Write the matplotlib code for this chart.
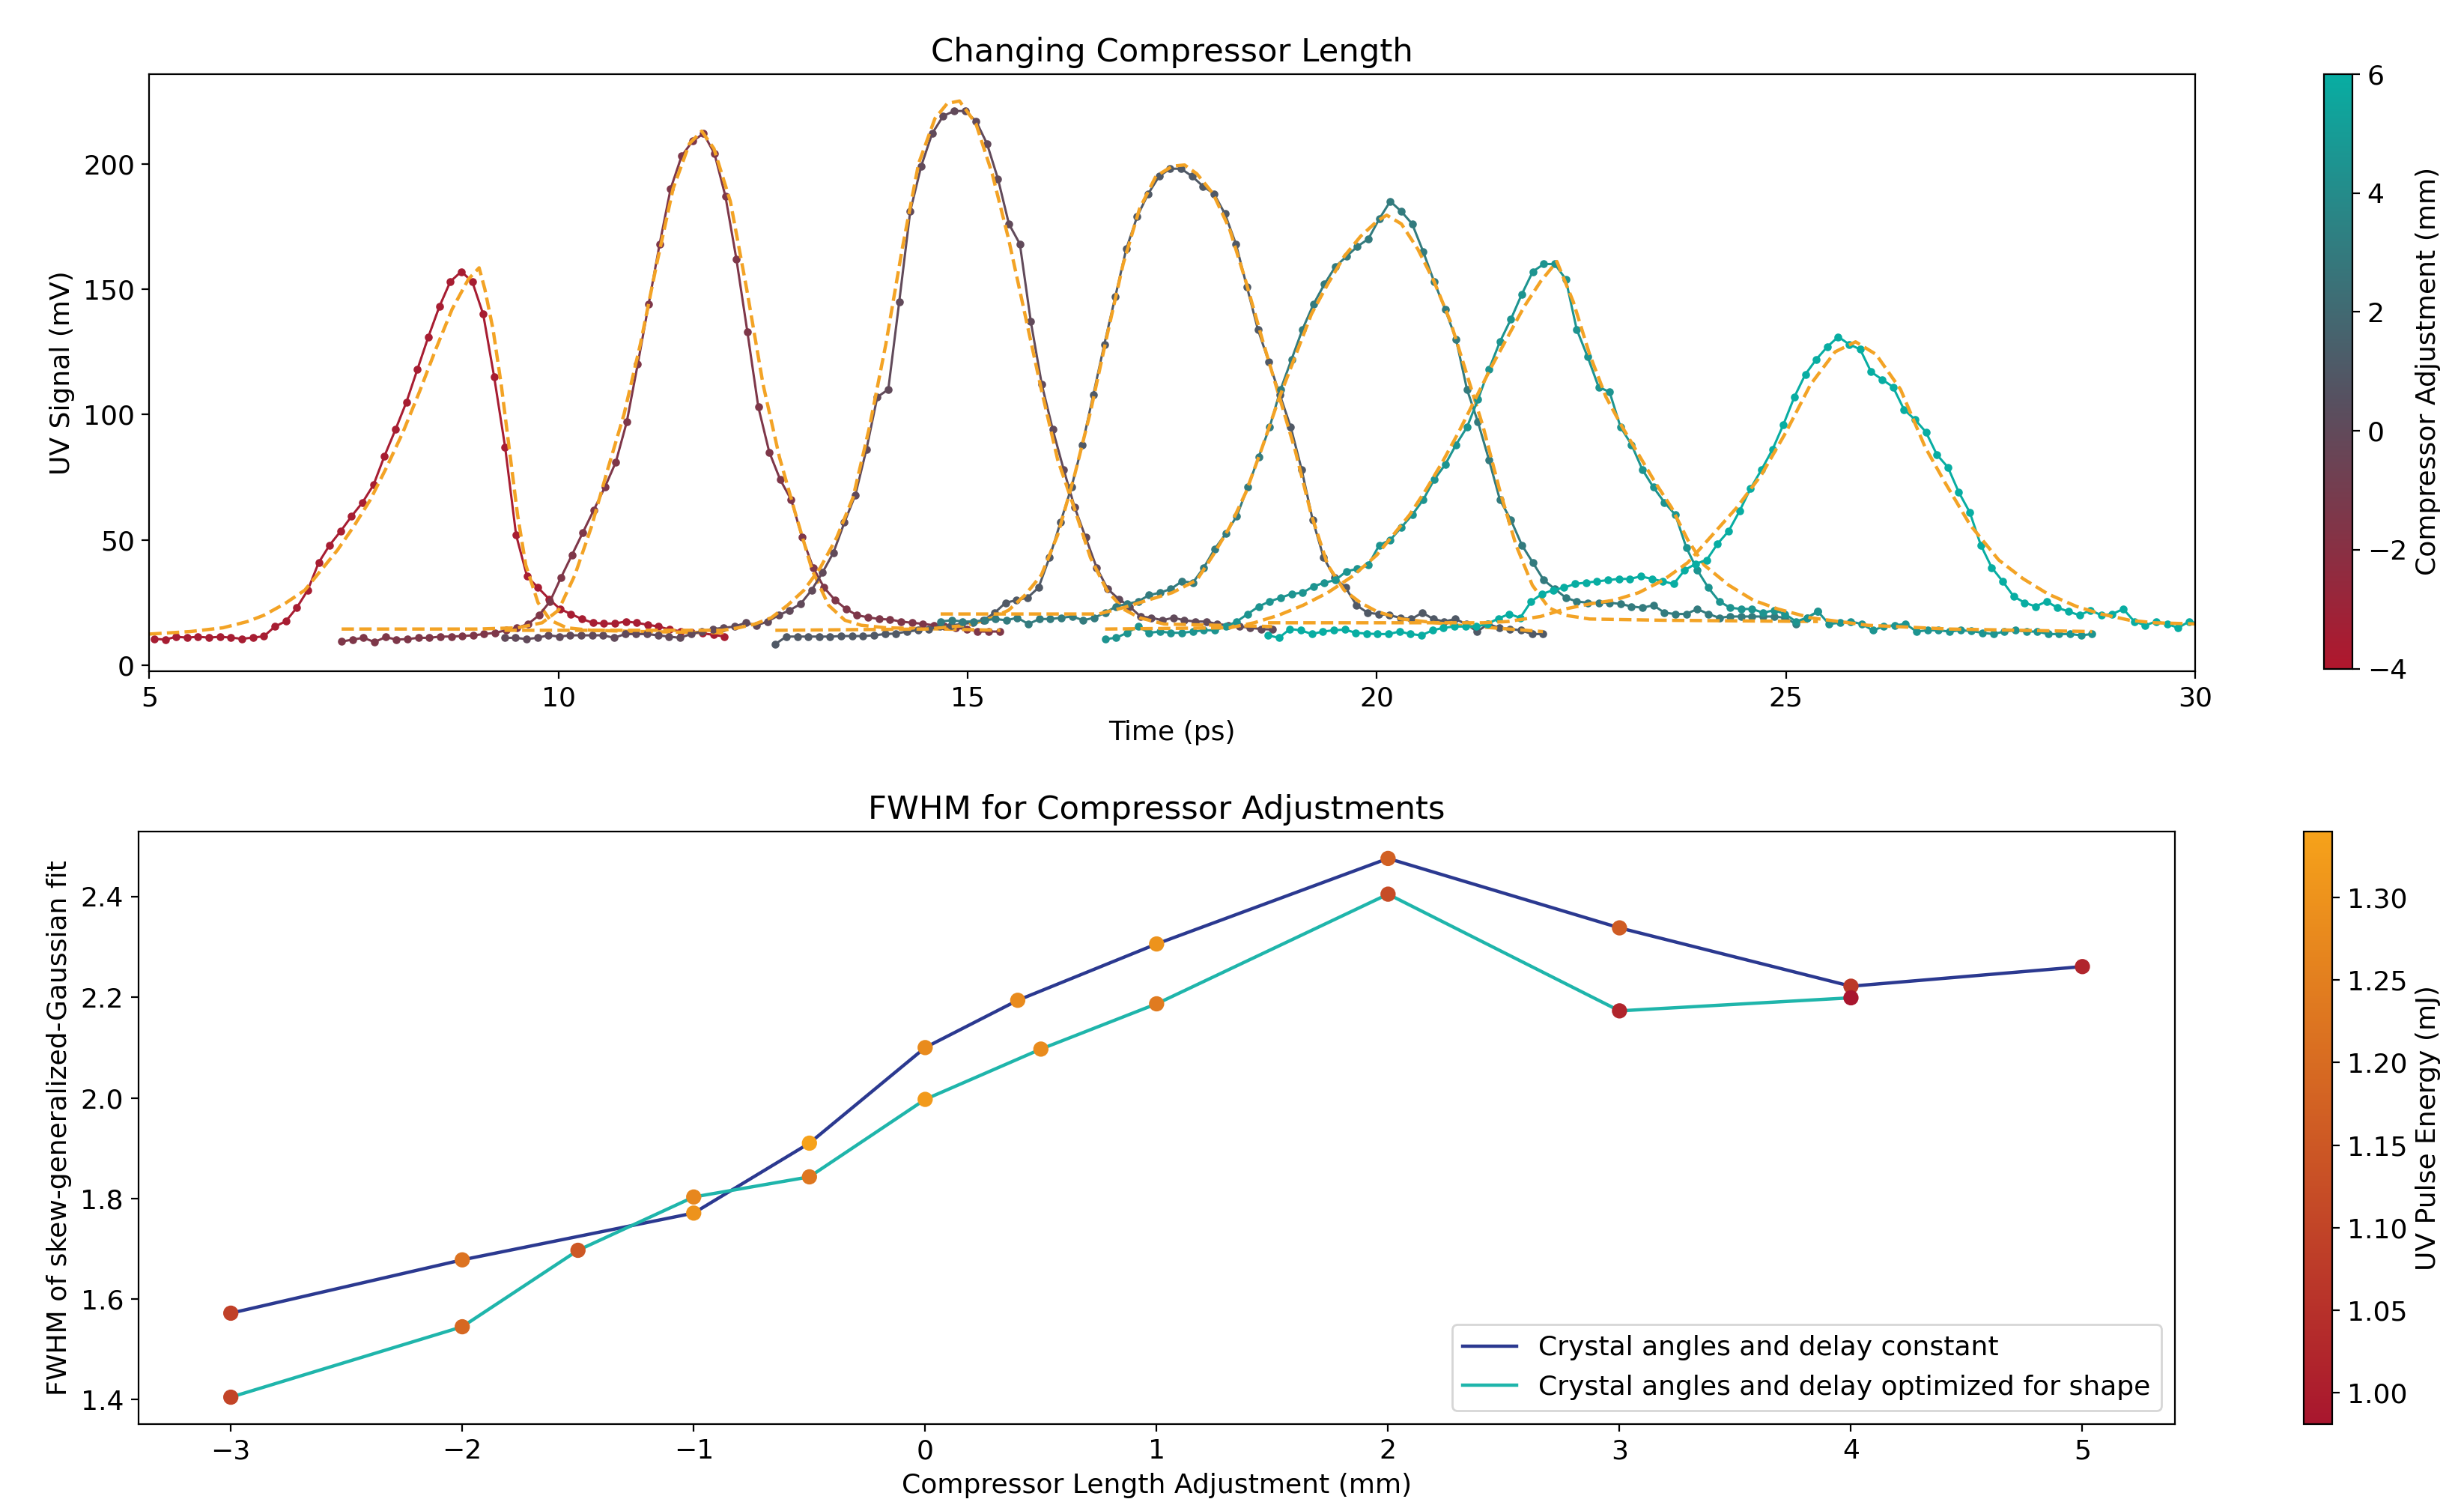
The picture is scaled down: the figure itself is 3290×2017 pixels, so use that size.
import numpy as np
import matplotlib
matplotlib.use("Agg")
import matplotlib.pyplot as plt
from matplotlib.colors import LinearSegmentedColormap, Normalize
from matplotlib.cm import ScalarMappable

plt.rcParams["font.size"] = 13

# ---------------- top panel data ----------------
DT = 0.134  # sampling step of the scope traces (ps)
trace_adjust = [-3.5, -1.5, 0.0, 1.0, 3.0, 4.5, 6.0]
trace_t0 = [5.06, 7.35, 9.34, 12.65, 14.67, 16.68, 18.67]

trace1_v = [10.6, 10.3, 11.4, 11.1, 11.4, 11.1, 11.4, 11.1, 10.6, 11.1, 11.6, 15.5, 17.6, 23, 30,
            41, 48, 53.5, 59.5, 65, 72, 83.5, 94, 105, 118, 131, 143, 153, 157, 153, 140, 115, 87,
            52, 35.5, 31, 26.5, 22.5, 20.5, 18.5, 17, 16.7, 16.7, 17.5, 17, 16.2, 15.5, 14.3, 13.6,
            13.2, 12.8, 12.2, 11.5]
trace2_v = [9.5, 10.3, 11, 9.3, 11.3, 10.3, 10.5, 11, 11, 11.5, 11.5, 11.7, 12, 12.5, 13, 14, 15,
            16.5, 20, 25.5, 35, 44, 53, 62, 71, 81, 97, 120, 144, 168, 190, 203, 209, 212, 204, 187,
            162, 133, 103, 85, 74, 66, 51, 39, 31, 26, 22.5, 20, 19.2, 18.5, 18.3, 17.5, 17, 16.6,
            16, 15.5, 15, 14.5, 13.5, 13.5, 13.5]
trace3_v = [11, 11, 10.5, 11, 12, 11.5, 12, 12, 12, 12, 11, 12.5, 12.5, 12.5, 12, 11.5, 11, 12.5,
            13.5, 14.5, 15, 15.5, 17, 16, 17.5, 20, 22, 24.5, 30, 37, 45, 57, 68, 86, 107, 110, 145,
            181, 199, 212, 219, 221, 221, 217, 208, 194, 176, 168, 137, 112, 94, 78, 63, 51, 39,
            30.5, 26.5, 23.5, 19.5, 19, 18, 19, 18, 17.5, 17.5, 16.5, 16, 15.5, 15, 14.5, 14.3]
trace4_v = [8.5, 11.5, 11.5, 11.5, 11.5, 11.5, 11.7, 11.7, 11.7, 12, 12.5, 12.7, 13.5, 14, 14.5,
            15.5, 16, 16.5, 17, 18, 21, 25, 26, 27, 31, 43, 57, 71, 88, 108, 128, 147, 166, 179, 188,
            195, 198, 198, 195, 191, 188, 180, 168, 151, 134, 121, 108, 95, 78, 58, 43, 35, 31, 24,
            21, 20.5, 20, 19, 18.5, 21, 18.5, 17.5, 18.5, 16.5, 13.5, 16.5, 15, 14.5, 14, 12.5, 12.5]
trace5_v = [17.5, 18, 17.5, 17.5, 18, 18.5, 18, 19, 16.5, 18.5, 18.5, 19, 19.5, 18, 19, 21, 23.5,
            24.5, 25.5, 28, 29, 30.5, 33.5, 33, 39, 46.5, 52.5, 59.5, 71, 83, 95, 110, 122, 134, 144,
            152, 159, 163, 167, 170, 178, 185, 181, 176, 165, 153, 142, 130, 110, 97, 82, 66, 58, 48,
            41, 34, 30.5, 27, 25.5, 25, 25, 25, 24.5, 23.5, 23, 24, 21, 20.5, 20.5, 22.5, 20.5, 19,
            19.5, 19.5, 19.5, 19.5, 19.5, 19, 16.5, 19, 21.5]
trace6_v = [10.5, 11, 13, 15.5, 13, 13.5, 13, 13, 13.5, 14, 14, 15.5, 17.5, 20.5, 23.5, 25.5, 27,
            28.5, 29, 31.5, 33, 34, 37.5, 38.5, 40, 48, 50, 55, 60, 66, 74, 80, 88, 95, 106, 118,
            129, 138, 148, 157, 160, 160, 154, 134, 123, 111, 109, 95, 88, 78, 71, 65, 60, 47, 38,
            31, 25.5, 23, 22.5, 22.5, 21, 22, 20.5, 17.5, 19, 21.5, 16.5, 17, 17.5, 16.5, 14, 15.5,
            16, 16.5, 13.5, 14, 14, 13.5, 14, 13.7, 13, 12.5, 13.5, 14, 13.5, 13.5, 12.5, 12.5,
            12.5, 12, 12.5]
trace7_v = [12, 11, 14.5, 14, 12.5, 13.5, 14, 14.3, 13, 12.7, 12.5, 12.5, 13.5, 12.5, 12, 14, 15,
            15.5, 15.5, 15.5, 16.5, 18.7, 20.5, 19, 25.5, 28.5, 30, 31, 32.5, 33, 33.5, 34, 34.5,
            34.5, 35.5, 34.5, 33.5, 32.5, 38, 40.5, 42, 48.5, 53.5, 61.5, 70.5, 78, 86, 96, 107, 116,
            122, 127, 131, 128, 126, 117, 114, 111, 102, 98, 93, 84, 79, 69, 61, 48, 39, 33.5, 27.5,
            25, 23.5, 25.5, 23, 21.5, 20, 22, 20, 20.5, 22.5, 17.5, 16, 17.5, 16.5, 15, 17.5, 16.5]
traces_v = [trace1_v, trace2_v, trace3_v, trace4_v, trace5_v, trace6_v, trace7_v]

# skew-generalized-Gaussian fits
fit1_t = [5.0, 5.5, 5.9, 6.2, 6.4, 6.65, 6.9, 7.1, 7.3, 7.5, 7.7, 7.9, 8.1, 8.3, 8.5, 8.7, 8.9,
          9.03, 9.1, 9.2, 9.3, 9.4, 9.5, 9.6, 9.75, 9.9, 10.1, 10.4, 11.0, 12.05]
fit1_v = [12.5, 13.5, 15, 17.5, 20, 24.5, 30, 38, 46, 55.5, 66, 79, 93, 109, 126, 142, 154, 158.5,
          150, 134, 112, 86, 60, 40, 25, 18, 15, 14, 13.5, 13]
fit2_t = [7.35, 9.0, 9.5, 9.8, 10.0, 10.2, 10.4, 10.6, 10.8, 11.0, 11.2, 11.4, 11.6, 11.75, 11.9,
          12.1, 12.3, 12.5, 12.7, 12.9, 13.1, 13.3, 13.5, 13.7, 14.0, 15.4]
fit2_v = [14.5, 14.5, 15, 17, 22, 36, 55, 78, 100, 128, 160, 190, 208, 213, 206, 185, 150, 112,
          83, 60, 38, 24, 18, 16, 15, 14]
fit3_t = [9.34, 12.0, 12.2, 12.4, 12.6, 12.8, 13.0, 13.2, 13.4, 13.6, 13.8, 14.0, 14.2, 14.4,
          14.6, 14.75, 14.9, 15.1, 15.3, 15.5, 15.7, 15.9, 16.1, 16.3, 16.5, 16.7, 16.9, 17.1,
          17.4, 18.72]
fit3_v = [14, 14, 15, 16.5, 19, 24, 30, 39, 51, 67, 95, 128, 166, 200, 218, 224, 225, 216, 196,
          170, 140, 110, 82, 63, 43, 30, 22.5, 19, 16.5, 15.5]
fit4_t = [12.65, 14.5, 15.0, 15.3, 15.5, 15.7, 15.9, 16.1, 16.3, 16.5, 16.7, 16.9, 17.1, 17.3,
          17.5, 17.65, 17.8, 18.0, 18.2, 18.4, 18.6, 18.8, 19.0, 19.2, 19.4, 19.6, 19.8, 20.0,
          20.3, 21.0, 22.03]
fit4_v = [14, 14.5, 16, 19, 22, 28, 36, 52, 75, 101, 131, 160, 182, 195, 199, 199.5, 196, 188,
          174, 153, 130, 108, 86, 60, 40, 30, 25, 21.5, 18.5, 16, 13.5]
fit5_t = [14.67, 16.6, 16.9, 17.2, 17.5, 17.8, 18.0, 18.2, 18.4, 18.6, 18.8, 19.0, 19.2, 19.4,
          19.6, 19.8, 20.0, 20.12, 20.3, 20.5, 20.7, 20.9, 21.1, 21.3, 21.5, 21.7, 21.9, 22.1,
          22.3, 22.6, 23.5, 25.39]
fit5_v = [20.5, 20.5, 23, 26, 29, 34, 44, 55, 69, 87, 106, 123, 140, 152, 163, 171, 177, 179.5,
          176, 166, 153, 137, 116, 95, 70, 48, 32, 23, 20, 18.5, 18, 17.5]
fit6_t = [16.68, 18.2, 18.5, 18.8, 19.1, 19.4, 19.7, 20.0, 20.2, 20.4, 20.6, 20.8, 21.0, 21.2,
          21.4, 21.6, 21.8, 22.0, 22.2, 22.4, 22.6, 22.8, 23.0, 23.2, 23.4, 23.6, 23.8, 24.0,
          24.3, 24.6, 24.9, 25.3, 26.0, 27.0, 28.74]
fit6_v = [14.5, 15, 17, 20, 24, 29, 35.5, 44, 52, 60, 70, 81, 93, 106, 119, 131, 143, 153, 161,
          145, 124, 107, 95, 84, 73, 63, 50, 40, 32, 26, 22.5, 19, 16, 14.5, 13.5]
fit7_t = [18.67, 21.3, 21.6, 22.0, 22.3, 22.6, 22.9, 23.2, 23.5, 23.8, 24.1, 24.4, 24.7, 25.0,
          25.3, 25.6, 25.85, 26.1, 26.4, 26.7, 26.95, 27.25, 27.6, 27.9, 28.2, 28.55, 28.85, 29.2,
          29.5, 30.06]
fit7_v = [17, 17, 17.5, 19.5, 22.5, 24.5, 26, 29, 34, 41, 52, 63, 76, 93, 112, 125, 129, 124,
          110, 87, 72.5, 56, 42, 34.5, 28.5, 23.5, 20.5, 18, 17, 16.5]
fits_t = [fit1_t, fit2_t, fit3_t, fit4_t, fit5_t, fit6_t, fit7_t]
fits_v = [fit1_v, fit2_v, fit3_v, fit4_v, fit5_v, fit6_v, fit7_v]

# ---------------- bottom panel data ----------------
adj_const = [-3, -2, -1, -0.5, 0, 0.4, 1, 2, 3, 4, 5]
fwhm_const = [1.572, 1.678, 1.771, 1.910, 2.100, 2.194, 2.306, 2.476, 2.338, 2.222, 2.261]
energy_const = [1.09, 1.22, 1.30, 1.34, 1.28, 1.28, 1.30, 1.17, 1.16, 1.07, 1.02]
adj_opt = [-3, -2, -1.5, -1, -0.5, 0, 0.5, 1, 2, 3, 4]
fwhm_opt = [1.405, 1.545, 1.697, 1.803, 1.843, 1.997, 2.097, 2.187, 2.405, 2.173, 2.199]
energy_opt = [1.10, 1.19, 1.15, 1.27, 1.23, 1.32, 1.28, 1.24, 1.12, 1.02, 0.981]

# ---------------- figure ----------------
fig = plt.figure(figsize=(16.45, 10.085), dpi=200)

cmap_top = LinearSegmentedColormap.from_list(
    "redteal", [(0.0, "#b0172d"), (0.45, "#575060"), (1.0, "#08ada2")])
norm_top = Normalize(vmin=-4, vmax=6)

ax1 = fig.add_axes([0.0606, 0.5558, 0.8303, 0.3953])
fit_color = "#f3a325"
for t0, vals, adj, ft, fv in zip(trace_t0, traces_v, trace_adjust, fits_t, fits_v):
    t = t0 + DT * np.arange(len(vals))
    c = cmap_top(norm_top(adj))
    ax1.plot(t, vals, "-o", color=c, lw=1.1, ms=2.8)
    ax1.plot(ft, fv, "--", color=fit_color, lw=1.6)
ax1.set_xlim(5, 30)
ax1.set_ylim(-2.3, 235.8)
ax1.set_xlabel("Time (ps)")
ax1.set_ylabel("UV Signal (mV)")
ax1.set_title("Changing Compressor Length")

cax1 = fig.add_axes([0.9432, 0.5575, 0.0116, 0.3935])
cb1 = fig.colorbar(ScalarMappable(norm=norm_top, cmap=cmap_top), cax=cax1)
cb1.set_ticks([-4, -2, 0, 2, 4, 6])
cb1.set_label("Compressor Adjustment (mm)")

cmap_bot = LinearSegmentedColormap.from_list("redorange", ["#a8162e", "#f6a21a"])
emin = min(min(energy_const), min(energy_opt))
emax = max(max(energy_const), max(energy_opt))
norm_bot = Normalize(vmin=emin, vmax=emax)

ax2 = fig.add_axes([0.0561, 0.0575, 0.8266, 0.3922])
ax2.plot(adj_const, fwhm_const, color="#2b3990", lw=1.6,
         label="Crystal angles and delay constant")
ax2.plot(adj_opt, fwhm_opt, color="#1fb5ab", lw=1.6,
         label="Crystal angles and delay optimized for shape")
ax2.scatter(adj_const, fwhm_const, c=energy_const, cmap=cmap_bot, norm=norm_bot, s=40, zorder=3)
ax2.scatter(adj_opt, fwhm_opt, c=energy_opt, cmap=cmap_bot, norm=norm_bot, s=40, zorder=3)
ax2.set_xlabel("Compressor Length Adjustment (mm)")
ax2.set_ylabel("FWHM of skew-generalized-Gaussian fit")
ax2.set_title("FWHM for Compressor Adjustments")
ax2.legend(loc="lower right")

cax2 = fig.add_axes([0.935, 0.0575, 0.0116, 0.3922])
cb2 = fig.colorbar(ScalarMappable(norm=norm_bot, cmap=cmap_bot), cax=cax2)
cb2.set_ticks([1.00, 1.05, 1.10, 1.15, 1.20, 1.25, 1.30])
cb2.set_label("UV Pulse Energy (mJ)")

fig.savefig("out.png", dpi=200)
